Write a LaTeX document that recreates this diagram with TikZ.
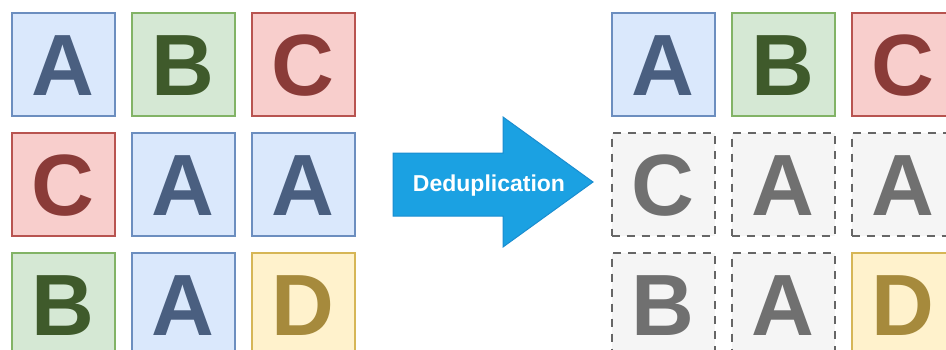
\documentclass[tikz,border=0pt]{standalone}
\usepackage{fontspec}
\setmainfont{Liberation Sans}
\definecolor{bluefill}{HTML}{DAE8FC}\definecolor{bluedraw}{HTML}{6C8EBF}\definecolor{bluetext}{HTML}{4A5F80}
\definecolor{greenfill}{HTML}{D5E8D4}\definecolor{greendraw}{HTML}{82B366}\definecolor{greentext}{HTML}{3F5A2B}
\definecolor{redfill}{HTML}{F8CECC}\definecolor{reddraw}{HTML}{B85450}\definecolor{redtext}{HTML}{8A3B38}
\definecolor{yellowfill}{HTML}{FFF2CC}\definecolor{yellowdraw}{HTML}{D6B656}\definecolor{yellowtext}{HTML}{A68A3C}
\definecolor{grayfill}{HTML}{F5F5F5}\definecolor{graydraw}{HTML}{666666}\definecolor{graytext}{HTML}{707070}
\definecolor{arrowfill}{HTML}{1BA1E2}\definecolor{arrowdraw}{HTML}{1A8DD0}
\tikzset{
  block/.style={rectangle, minimum size=103pt, inner sep=0pt, line width=2pt,
    font=\fontsize{87}{87}\selectfont\bfseries, text height=62pt, text depth=0pt},
  bA/.style={block, fill=bluefill, draw=bluedraw, text=bluetext},
  bB/.style={block, fill=greenfill, draw=greendraw, text=greentext},
  bC/.style={block, fill=redfill, draw=reddraw, text=redtext},
  bD/.style={block, fill=yellowfill, draw=yellowdraw, text=yellowtext},
  dup/.style={block, fill=grayfill, draw=graydraw, text=graytext, dash pattern=on 8pt off 7pt},
}
\begin{document}
\begin{tikzpicture}[x=1pt,y=-1pt]
\useasboundingbox (0,0) rectangle (946,349);
% source blocks
\node[bA] (l11) at (63,64) {A};
\node[bB] (l12) at (183,64) {B};
\node[bC] (l13) at (303,64) {C};
\node[bC] (l21) at (63,184) {C};
\node[bA] (l22) at (183,184) {A};
\node[bA] (l23) at (303,184) {A};
\node[bB] (l31) at (63,304) {B};
\node[bA] (l32) at (183,304) {A};
\node[bD] (l33) at (303,304) {D};
% deduplicated blocks
\node[bA] (r11) at (663,64) {A};
\node[bB] (r12) at (783,64) {B};
\node[bC] (r13) at (903,64) {C};
\node[dup] (r21) at (663,184) {C};
\node[dup] (r22) at (783,184) {A};
\node[dup] (r23) at (903,184) {A};
\node[dup] (r31) at (663,304) {B};
\node[dup] (r32) at (783,304) {A};
\node[bD] (r33) at (903,304) {D};
% process arrow
\draw[fill=arrowfill, draw=arrowdraw, line width=1pt, line join=miter]
  (393,153) -- (503,153) -- (503,117) -- (593,182) -- (503,247) -- (503,216) -- (393,216) -- cycle;
\node[text=white, font=\fontsize{23}{23}\selectfont\bfseries, inner sep=0pt, text height=16.5pt, text depth=0pt] (lbl) at (489,183) {Deduplication};
\end{tikzpicture}
\end{document}
